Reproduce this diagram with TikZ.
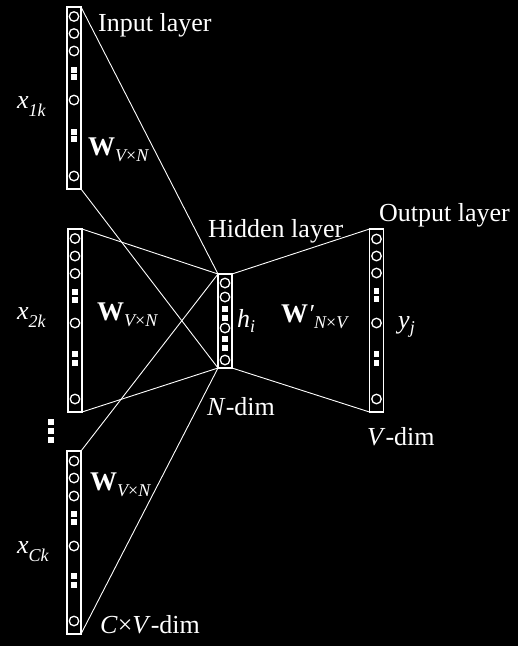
\documentclass[tikz,border=0pt]{standalone}
\usepackage{fontspec}
\setmainfont{Liberation Serif}
\usetikzlibrary{calc}
\newcommand\lo[2][6]{\raisebox{-#1pt}{\fontsize{18}{18}\selectfont\itshape #2}}
\newcommand\units[2]{%
  \begin{scope}[shift={(#1.north)}]
    \foreach \t/\o [count=\i] in {#2} {\node[\t] (#1-\i) at (0,\o) {};}
  \end{scope}}
\tikzset{
  layerbox/.style={draw=white, line width=1.3pt, rectangle, minimum width=14pt, inner sep=0pt, outer sep=0pt},
  u/.style={draw=white, line width=1.3pt, circle, minimum size=9.5pt, inner sep=0pt},
  s/.style={fill=white, rectangle, minimum size=5.5pt, inner sep=0pt},
  conn/.style={draw=white, line width=0.9pt},
  lbl/.style={text=white, inner sep=0pt, anchor=base west, font=\fontsize{26}{26}\selectfont},
}
\begin{document}
\begin{tikzpicture}[x=1pt,y=-1pt]
\fill[black] (0,0) rectangle (518,646);
\useasboundingbox (0,0) rectangle (518,646);
% layer boxes
\node[layerbox, minimum height=182pt] (in1) at (74,98) {};
\node[layerbox, minimum height=183pt] (in2) at (75,320.5) {};
\node[layerbox, minimum height=183pt] (in3) at (74,542.5) {};
\node[layerbox, minimum height=94pt] (hid) at (225,321) {};
\node[layerbox, minimum height=183pt] (out) at (376.5,320.5) {};
% units
\units{in1}{u/9.5, u/26.5, u/44, s/63, s/70, u/93, s/125, s/132, u/169}
\units{in2}{u/9.5, u/27, u/44.5, s/63, s/71, u/94, s/125, s/134, u/170}
\units{in3}{u/10, u/27, u/45, s/63, s/71, u/95, s/125, s/134, u/170}
\units{out}{u/10, u/27, u/44, s/62, s/70, u/94, s/125, s/134, u/170}
\units{hid}{u/9, u/23, s/35, s/44, u/54, s/65, s/74, u/86}
% vertical dots between input groups
\node[s, minimum size=6pt] (vd1) at (51,422) {};
\node[s, minimum size=6pt] (vd2) at (51,431) {};
\node[s, minimum size=6pt] (vd3) at (51,440) {};
% connectors
\draw[conn] (in1.north east) -- (hid.north west);
\draw[conn] (in1.south east) -- (hid.south west);
\draw[conn] (in2.north east) -- (hid.north west);
\draw[conn] (in2.south east) -- (hid.south west);
\draw[conn] (in3.north east) -- (hid.north west);
\draw[conn] (in3.south east) -- (hid.south west);
\draw[conn] (hid.north east) -- (out.north west);
\draw[conn] (hid.south east) -- (out.south west);
% labels
\node[lbl] (tin) at (98,31) {Input layer};
\node[lbl] (thid) at (208,237) {Hidden layer};
\node[lbl] (tout) at (379,221) {Output layer};
\node[lbl] (tnd) at (207,415) {\textit{N}-dim};
\node[lbl] (tvd) at (367,445) {\textit{V}-dim};
\node[lbl] (tcvd) at (100,633) {\textit{C}×\textit{V}-dim};
\node[lbl] (x1) at (17,108) {\textit{x}\lo[8]{1k}};
\node[lbl] (x2) at (17,319) {\textit{x}\lo[8]{2k}};
\node[lbl] (x3) at (17,553) {\textit{x}\lo[8]{Ck}};
\node[lbl] (w1) at (88,155) {{\fontsize{27}{27}\selectfont\bfseries W}\lo{V\upshape×\itshape N}};
\node[lbl] (w2) at (97,320) {{\fontsize{27}{27}\selectfont\bfseries W}\lo{V\upshape×\itshape N}};
\node[lbl] (w3) at (90,490) {{\fontsize{27}{27}\selectfont\bfseries W}\lo{V\upshape×\itshape N}};
\node[lbl] (hi) at (237,327) {\textit{h}\lo[5]{i}};
\node[lbl] (wp) at (281,322) {{\fontsize{27}{27}\selectfont\bfseries W}\textit{′}\lo{N\upshape×\itshape V}};
\node[lbl] (yj) at (398,328) {\textit{y}\lo[5]{j}};
\end{tikzpicture}
\end{document}
